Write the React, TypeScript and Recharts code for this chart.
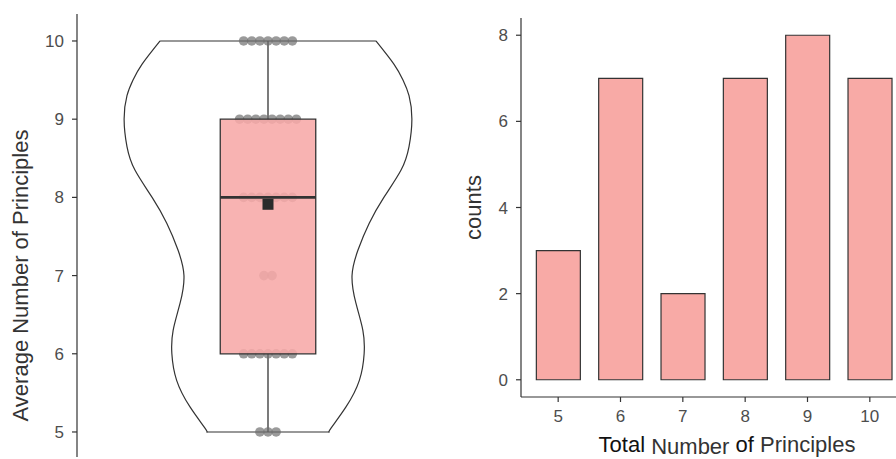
import {
  Bar,
  BarChart,
  ComposedChart,
  Label,
  ReferenceArea,
  ReferenceLine,
  Scatter,
  XAxis,
  YAxis,
} from "recharts";

// number of principles (category) and how many respondents gave it
const principleValues = [5, 6, 7, 8, 9, 10];
const principleCounts = [3, 7, 2, 7, 8, 7];

// box plot summary
const boxStats = { min: 5, q1: 6, median: 8, q3: 9, max: 10 };

// violin outline: half-width (x units) at each level
const violinLevels = [10, 9.7, 9.5, 9.3, 9.0, 8.65, 8.35, 8.0, 7.67, 7.33, 7.0, 6.65, 6.3, 6.0, 5.66, 5.32, 5.05, 5.0];
const violinHalfWidths = [
  0.339, 0.396, 0.424, 0.443, 0.452, 0.443, 0.418, 0.364, 0.318, 0.283, 0.264, 0.276, 0.298, 0.302, 0.287, 0.245,
  0.198, 0.193,
];

const averageTicks = [5, 6, 7, 8, 9, 10];
const countTicks = [0, 2, 4, 6, 8];

const CENTER = 1;
const BOX_HALF = 0.15;
const DOT_STEP = 0.0255;
const FONT = "'Liberation Sans', Arial, sans-serif";
const INK = "#333333";
const TICK = "#4d4d4d";

const leftEdge = violinLevels.map((y, i) => ({ x: CENTER - violinHalfWidths[i], y }));
const rightEdge = violinLevels.map((y, i) => ({ x: CENTER + violinHalfWidths[i], y }));

const dots = principleValues.flatMap((v, i) =>
  Array.from({ length: principleCounts[i] }, (_, k) => ({
    x: CENTER + (k - (principleCounts[i] - 1) / 2) * DOT_STEP,
    y: v,
  }))
);

const total = principleCounts.reduce((a, b) => a + b, 0);
const mean = principleValues.reduce((s, v, i) => s + v * principleCounts[i], 0) / total;
const meanPoint = [{ x: CENTER, y: mean }];

const barData = principleValues.map((v, i) => ({ total: String(v), counts: principleCounts[i] }));

const tickStyle = { fill: TICK, fontSize: 17, fontFamily: FONT };

function LeftTitle(props: any) {
  const vb = props.viewBox;
  const cy = vb.y + vb.height / 2 + 40;
  const x = 28;
  return (
    <text x={x} y={cy} transform={`rotate(-90, ${x}, ${cy})`} textAnchor="middle" fontSize={22} fontFamily={FONT} fill={INK}>
      Average Number of Principles
    </text>
  );
}

function CountsTitle(props: any) {
  const vb = props.viewBox;
  const cy = vb.y + vb.height / 2;
  const x = 31;
  return (
    <text x={x} y={cy} transform={`rotate(-90, ${x}, ${cy})`} textAnchor="middle" fontSize={22} fontFamily={FONT} fill={INK}>
      counts
    </text>
  );
}

function TotalTitle(props: any) {
  const vb = props.viewBox;
  const cx = vb.x + vb.width / 2 + 13;
  const y = vb.y + 55;
  return (
    <text x={cx} y={y} textAnchor="middle" fontSize={22} fontFamily={FONT} fill="#111">
      <tspan>Total </tspan>
      <tspan fill={INK} dy={2}>Number </tspan>
      <tspan dy={-2}>of </tspan>
      <tspan fill={INK}>Principles</tspan>
    </text>
  );
}

const noPoint = () => <g />;

const dotShape = (p: any) => <circle cx={p.cx} cy={p.cy} r={4.8} fill="#6f6f6f" fillOpacity={0.7} />;

const meanShape = (p: any) => <rect x={p.cx - 5.5} y={p.cy - 5.5} width={11} height={11} fill="#2b2b2b" />;

function ViolinPanel() {
  return (
    <ComposedChart width={460} height={459} margin={{ top: 14, right: 1, bottom: 2, left: 0 }}>
      <XAxis
        type="number"
        dataKey="x"
        domain={[0.4, 1.6]}
        allowDataOverflow
        tick={false}
        tickLine={false}
        height={0}
        axisLine={{ stroke: INK, strokeWidth: 1.2 }}
      />
      <YAxis
        type="number"
        dataKey="y"
        domain={[4.68, 10.345]}
        allowDataOverflow
        ticks={averageTicks}
        width={77}
        tickSize={5}
        tickMargin={8}
        tick={tickStyle}
        axisLine={{ stroke: INK, strokeWidth: 1.2 }}
        tickLine={{ stroke: INK, strokeWidth: 1.2 }}
      >
        <Label content={LeftTitle} />
      </YAxis>
      <ReferenceLine
        segment={[
          { x: leftEdge[0].x, y: boxStats.max },
          { x: rightEdge[0].x, y: boxStats.max },
        ]}
        stroke={INK}
        strokeWidth={1.2}
      />
      <ReferenceLine
        segment={[
          { x: leftEdge[leftEdge.length - 1].x, y: boxStats.min },
          { x: rightEdge[rightEdge.length - 1].x, y: boxStats.min },
        ]}
        stroke={INK}
        strokeWidth={1.2}
      />
      <Scatter
        data={leftEdge}
        shape={noPoint}
        line={{ stroke: INK, strokeWidth: 1.2 }}
        lineJointType="natural"
        isAnimationActive={false}
      />
      <Scatter
        data={rightEdge}
        shape={noPoint}
        line={{ stroke: INK, strokeWidth: 1.2 }}
        lineJointType="natural"
        isAnimationActive={false}
      />
      <ReferenceLine
        segment={[
          { x: CENTER, y: boxStats.q3 },
          { x: CENTER, y: boxStats.max },
        ]}
        stroke={INK}
        strokeWidth={1.3}
      />
      <ReferenceLine
        segment={[
          { x: CENTER, y: boxStats.min },
          { x: CENTER, y: boxStats.q1 },
        ]}
        stroke={INK}
        strokeWidth={1.3}
      />
      <Scatter data={dots} shape={dotShape} isAnimationActive={false} />
      <ReferenceArea
        x1={CENTER - BOX_HALF}
        x2={CENTER + BOX_HALF}
        y1={boxStats.q1}
        y2={boxStats.q3}
        fill="#F7A9A7"
        fillOpacity={0.88}
        stroke={INK}
        strokeWidth={1.3}
        zIndex={700}
      />
      <ReferenceLine
        segment={[
          { x: CENTER - BOX_HALF, y: boxStats.median },
          { x: CENTER + BOX_HALF, y: boxStats.median },
        ]}
        stroke={INK}
        strokeWidth={2.6}
        zIndex={750}
      />
      <Scatter data={meanPoint} shape={meanShape} isAnimationActive={false} zIndex={800} />
    </ComposedChart>
  );
}

function CountsPanel() {
  return (
    <BarChart
      width={457}
      height={459}
      data={barData}
      margin={{ top: 18, right: 0, bottom: 0, left: 0 }}
      barCategoryGap="15%"
    >
      <XAxis
        dataKey="total"
        padding={{ left: 6, right: 6 }}
        height={62}
        tickSize={5}
        tickMargin={8}
        tick={tickStyle}
        axisLine={{ stroke: INK, strokeWidth: 1.2 }}
        tickLine={{ stroke: INK, strokeWidth: 1.2 }}
      >
        <Label content={TotalTitle} />
      </XAxis>
      <YAxis
        type="number"
        domain={[-0.4, 8.4]}
        allowDataOverflow
        ticks={countTicks}
        width={71}
        tickSize={5}
        tickMargin={8}
        tick={tickStyle}
        axisLine={{ stroke: INK, strokeWidth: 1.2 }}
        tickLine={{ stroke: INK, strokeWidth: 1.2 }}
      >
        <Label content={CountsTitle} />
      </YAxis>
      <Bar dataKey="counts" fill="#F8AAA6" stroke={INK} strokeWidth={1.2} isAnimationActive={false} />
    </BarChart>
  );
}

export default function App() {
  return (
    <div
      style={{
        position: "fixed",
        left: 0,
        top: 0,
        width: 896,
        height: 459,
        overflow: "hidden",
        background: "#fff",
      }}
    >
      <div style={{ position: "absolute", left: 0, top: 0 }}>
        <ViolinPanel />
      </div>
      <div style={{ position: "absolute", left: 450, top: 0 }}>
        <CountsPanel />
      </div>
    </div>
  );
}
